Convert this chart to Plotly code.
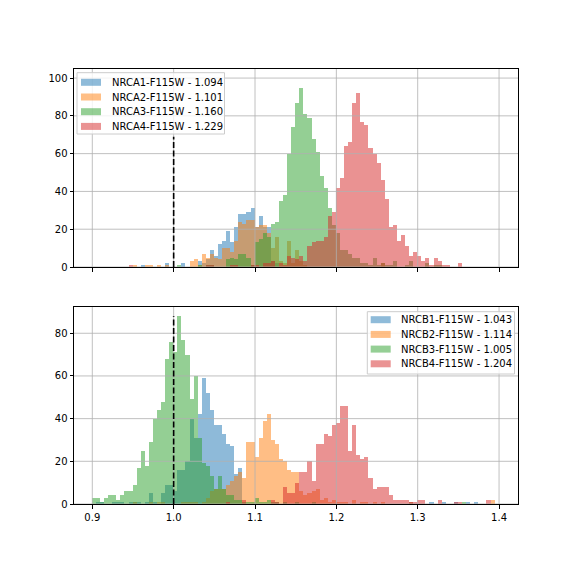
import plotly.graph_objects as go

# ---------------- data ----------------
BIN_WIDTH = 0.005
BIN0_CENTER = 0.902          # centre of bin index 0

labels_top = ["NRCA1-F115W - 1.094", "NRCA2-F115W - 1.101",
              "NRCA3-F115W - 1.160", "NRCA4-F115W - 1.229"]
labels_bot = ["NRCB1-F115W - 1.043", "NRCB2-F115W - 1.114",
              "NRCB3-F115W - 1.005", "NRCB4-F115W - 1.204"]

nrca1_first = 12
nrca1_counts = [1, 0, 0, 0, 0, 0, 2, 0, 0, 0, 2, 0, 0, 0, 3, 2, 4, 9, 6, 12, 14, 19, 13, 21,
                28, 28, 29, 31, 21, 27, 21, 21, 3, 2]

nrca2_first = 10
nrca2_counts = [1, 0, 0, 1, 1, 0, 1, 0, 1, 0,
                0, 0, 0, 0, 3, 4, 1, 7, 5, 7,
                5, 4, 10, 10, 8, 14, 24, 23, 25, 25,
                21, 22, 22, 18, 10, 16, 3, 2, 14, 2,
                9, 3, 1] + [0] * 18 + [2]

nrca3_first = 21
nrca3_counts = [1, 0, 0, 0, 0, 1, 0, 1, 1,
                0, 0, 0, 4, 5, 4, 7, 7, 5, 1,
                13, 15, 18, 16, 23, 24, 35, 38, 60, 74,
                87, 95, 81, 79, 68, 61, 48, 42, 31, 22,
                18, 9, 9, 7, 5, 5, 2, 2, 1, 5,
                1, 2, 1, 1, 3, 0, 0, 1, 3, 0,
                0, 0, 2, 0, 1, 1]

nrca4_first = 9
nrca4_counts = [1,
                0, 0, 0, 0, 0, 0, 0, 0, 0, 0,
                0, 0, 0, 0, 0, 0, 0, 0, 1, 1,
                0, 0, 0, 0, 1, 1, 0, 0, 0, 1,
                1, 0, 2, 2, 3, 0, 2, 1, 6, 5,
                4, 6, 3, 11, 13, 14, 14, 16, 27, 29,
                42, 47, 64, 66, 87, 92, 77, 75, 63, 60,
                55, 46, 36, 21, 22, 14, 17, 11, 6, 8,
                6, 3, 5, 1, 5, 3, 1, 1, 0, 0, 2]

nrcb1_first = 1
nrcb1_counts = [1, 1, 0, 0, 1, 1, 1, 0, 1,
                1, 1, 0, 1, 5, 1, 0, 5, 9, 9,
                6, 16, 16, 20, 40, 31, 42, 59, 52, 44,
                37, 37, 33, 28, 27, 14, 17, 0, 0, 0] + [0] * 30 + \
               [0, 0, 0, 0, 0, 0, 0, 0, 1, 0,
                0, 0, 0, 1, 0, 0, 1, 0, 0, 1,
                0, 0, 1, 0, 1]

nrcb2_first = 10
nrcb2_counts = [1, 0, 0, 0, 1, 0, 1, 1, 0, 0,
                0, 0, 1, 1, 1, 1, 0, 1, 3, 6,
                7, 7, 7, 9, 11, 13, 15, 12, 29, 29,
                22, 31, 39, 42, 30, 28, 21, 20, 16, 15,
                15, 6, 4, 5, 6, 7, 2, 3, 1, 2,
                1, 1, 1, 0, 2, 0, 1, 1, 0, 1,
                0, 1, 0, 0, 0, 0, 0, 0, 1, 0] + [0] * 18 + [2]

nrcb3_first = 0
nrcb3_counts = [3, 3, 1, 3, 4, 4, 2, 4, 6, 6,
                9, 17, 25, 18, 29, 40, 44, 48, 68, 76,
                71, 88, 77, 70, 49, 60, 31, 19, 18, 13,
                7, 13, 7, 4, 4, 2, 2, 1, 1, 1,
                3, 1, 1, 2, 1, 1, 0, 1, 0, 0,
                1, 0, 0, 0, 1] + [0] * 36 + [1]

nrcb4_first = 33
nrcb4_counts = [1, 0, 0, 0, 2, 0, 0,
                0, 0, 0, 0, 2, 1, 0, 8, 5, 5,
                10, 15, 15, 20, 11, 28, 28, 33, 32, 37,
                38, 46, 46, 25, 37, 23, 21, 22, 12, 7,
                8, 8, 8, 4, 2, 2, 2, 2, 1, 1,
                2, 2, 0, 0, 0, 2, 0, 0, 0, 1,
                1, 0, 0, 0, 0, 0, 0, 2]

ref_x = [1.0, 1.0]
ref_top_y = [0, 69]
ref_bot_y = [0, 88]

x_ticks = [0.9, 1.0, 1.1, 1.2, 1.3, 1.4]
x_tick_text = ["0.9", "1.0", "1.1", "1.2", "1.3", "1.4"]
y_ticks_top = [0, 20, 40, 60, 80, 100]
y_ticks_bot = [0, 20, 40, 60, 80]

COLORS = ["#1f77b4", "#ff7f0e", "#2ca02c", "#d62728"]

top_series = [(nrca1_first, nrca1_counts), (nrca2_first, nrca2_counts),
              (nrca3_first, nrca3_counts), (nrca4_first, nrca4_counts)]
bot_series = [(nrcb1_first, nrcb1_counts), (nrcb2_first, nrcb2_counts),
              (nrcb3_first, nrcb3_counts), (nrcb4_first, nrcb4_counts)]

X_RANGE = [0.8775, 1.4233]
Y_RANGE_TOP = [0, 104.8]
Y_RANGE_BOT = [0, 92.3]


def centres(first, counts):
    return [BIN0_CENTER + BIN_WIDTH * (first + i) for i in range(len(counts))]


FONT = "DejaVu Sans, Arial, sans-serif"

# ---------------- layout geometry (page pixels) ----------------
FIG_W, FIG_H = 560, 560
PAGE_OFF = 8                       # default body margin of the html page
ML, MR, MT, MB = 66, 50, 61, 64
PLOT_L = ML + PAGE_OFF
PLOT_T = MT + PAGE_OFF
PLOT_W = FIG_W - ML - MR
PLOT_H = FIG_H - MT - MB
PLOT_B = PLOT_T + PLOT_H


def pxx(px):
    return (px - PLOT_L) / PLOT_W


def pxy(py):
    return (PLOT_B - py) / PLOT_H


def grid_trace(yticks, yrange, xa, ya):
    """matplotlib draws its grid above the bars (but below lines)."""
    gx, gy = [], []
    for t in x_ticks:
        gx += [t, t, None]
        gy += [yrange[0], yrange[1], None]
    for t in yticks:
        gx += [X_RANGE[0], X_RANGE[1], None]
        gy += [t, t, None]
    return go.Scatter(x=gx, y=gy, mode="lines", showlegend=False, hoverinfo="skip",
                      line=dict(color="#b0b0b0", width=0.8), xaxis=xa, yaxis=ya)


fig = go.Figure()

for (first, counts), label, color in zip(top_series, labels_top, COLORS):
    fig.add_trace(go.Bar(x=centres(first, counts), y=counts, width=BIN_WIDTH,
                         name=label, marker=dict(color=color, line=dict(width=0)),
                         opacity=0.5, xaxis="x", yaxis="y", showlegend=False))
fig.add_trace(grid_trace(y_ticks_top, Y_RANGE_TOP, "x", "y"))
fig.add_trace(go.Scatter(x=ref_x, y=ref_top_y, mode="lines", showlegend=False,
                         line=dict(color="black", width=1.6, dash="6px,2.5px"),
                         xaxis="x", yaxis="y"))

for (first, counts), label, color in zip(bot_series, labels_bot, COLORS):
    fig.add_trace(go.Bar(x=centres(first, counts), y=counts, width=BIN_WIDTH,
                         name=label, marker=dict(color=color, line=dict(width=0)),
                         opacity=0.5, xaxis="x2", yaxis="y2", showlegend=False))
fig.add_trace(grid_trace(y_ticks_bot, Y_RANGE_BOT, "x2", "y2"))
fig.add_trace(go.Scatter(x=ref_x, y=ref_bot_y, mode="lines", showlegend=False,
                         line=dict(color="black", width=1.6, dash="6px,2.5px"),
                         xaxis="x2", yaxis="y2"))

# ---------------- legends (matplotlib style boxes) ----------------
shapes = []
annotations = []


def add_legend(box_l, box_t, box_r, box_b, patch_l, text_l, rows, labels):
    shapes.append(dict(type="rect", xref="paper", yref="paper",
                       x0=pxx(box_l), x1=pxx(box_r), y0=pxy(box_b), y1=pxy(box_t),
                       fillcolor="rgba(255,255,255,0.8)",
                       line=dict(color="#cccccc", width=1), layer="above"))
    for row, label, color in zip(rows, labels, COLORS):
        shapes.append(dict(type="rect", xref="paper", yref="paper",
                           x0=pxx(patch_l), x1=pxx(patch_l + 20),
                           y0=pxy(row + 3.5), y1=pxy(row - 3.5),
                           fillcolor=color, opacity=0.5, line=dict(width=0),
                           layer="above"))
        annotations.append(dict(xref="paper", yref="paper", x=pxx(text_l), y=pxy(row),
                                xanchor="left", yanchor="middle", showarrow=False,
                                text=label, font=dict(size=10, family=FONT, color="black")))


add_legend(77, 72.7, 224.5, 134, 81, 109.5, [82.3, 97.0, 111.7, 126.4], labels_top)
add_legend(367.3, 311.7, 514.5, 374, 370.7, 399, [319.7, 334.4, 349.1, 363.8], labels_bot)

axis_common = dict(showgrid=False,
                   showline=True, linecolor="black", linewidth=1, mirror=True,
                   ticks="outside", ticklen=3.5, tickwidth=0.8, tickcolor="black",
                   zeroline=False, tickfont=dict(size=10, color="black", family=FONT))

fig.update_layout(
    width=FIG_W, height=FIG_H,
    margin=dict(l=ML, r=MR, t=MT, b=MB),
    paper_bgcolor="white", plot_bgcolor="white",
    barmode="overlay", bargap=0,
    font=dict(family=FONT, size=10, color="black"),
    xaxis=dict(domain=[0, 1], anchor="y", range=X_RANGE, tickvals=x_ticks,
               showticklabels=False, **axis_common),
    yaxis=dict(domain=[pxy(267), 1], anchor="x", range=Y_RANGE_TOP, tickvals=y_ticks_top,
               **axis_common),
    xaxis2=dict(domain=[0, 1], anchor="y2", range=X_RANGE, tickvals=x_ticks,
                ticktext=x_tick_text, **axis_common),
    yaxis2=dict(domain=[0, pxy(307)], anchor="x2", range=Y_RANGE_BOT, tickvals=y_ticks_bot,
                **axis_common),
    shapes=shapes,
    annotations=annotations,
    showlegend=False,
    hovermode=False,
)

fig.write_html("out.html")
